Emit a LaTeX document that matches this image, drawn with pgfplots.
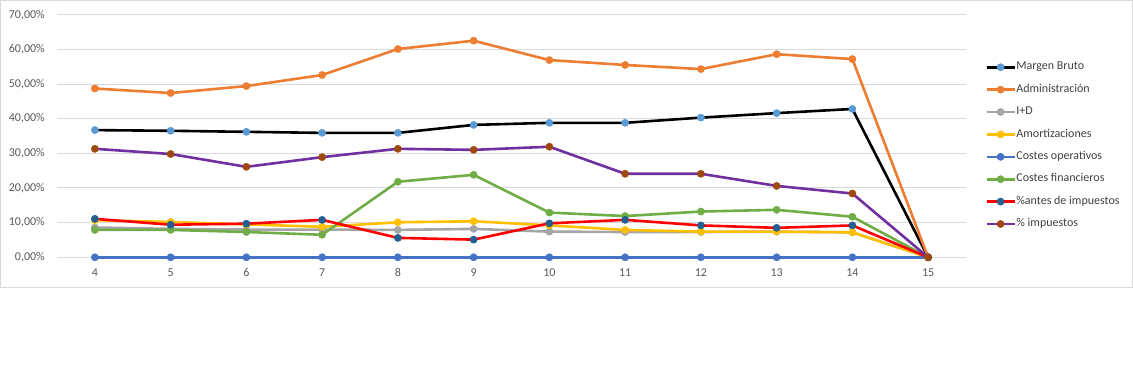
\documentclass[border=0pt]{standalone}
\usepackage{fontspec}
\setmainfont{Carlito}
\usepackage{pgfplots}
\pgfplotsset{compat=1.18}
\definecolor{mbm}{HTML}{5B9BD5}
\definecolor{adm}{HTML}{ED7D31}
\definecolor{idc}{HTML}{A5A5A5}
\definecolor{amo}{HTML}{FFC000}
\definecolor{cop}{HTML}{4472C4}
\definecolor{cfi}{HTML}{70AD47}
\definecolor{antm}{HTML}{255E91}
\definecolor{impl}{HTML}{7030A0}
\definecolor{impm}{HTML}{9E480E}
\definecolor{gridc}{HTML}{D9D9D9}
\definecolor{labc}{HTML}{595959}
\definecolor{legc}{HTML}{404040}
\begin{document}
\begin{tikzpicture}
\path[use as bounding box] (0bp,0bp) rectangle (1133bp,384bp);
\draw[gridc, line width=1bp] (0.5bp,96bp) rectangle (1132.5bp,383.5bp);
\begin{axis}[
  at={(57bp,126.7bp)}, anchor=south west,
  scale only axis, width=909bp, height=242.6bp,
  xmin=3.5, xmax=15.5, ymin=0, ymax=70,
  clip=false,
  axis line style={draw=none},
  major tick length=0pt,
  xtick={4,5,6,7,8,9,10,11,12,13,14,15},
  xticklabels={4,5,6,7,8,9,10,11,12,13,14,15},
  ytick={0,10,20,30,40,50,60,70},
  yticklabels={{0,00\%},{10,00\%},{20,00\%},{30,00\%},{40,00\%},{50,00\%},{60,00\%},{70,00\%}},
  /pgf/number format/assume math mode=true,
  ymajorgrids, grid style={gridc, line width=1bp},
  yticklabel style={font=\fontsize{12bp}{14bp}\selectfont, text=labc, anchor=east, inner sep=0pt, xshift=-12bp},
  xticklabel style={font=\fontsize{12bp}{14bp}\selectfont, text=labc, anchor=north, inner sep=0pt, yshift=-11bp},
  every axis plot/.append style={line width=2.6bp, line join=round, mark=*, mark size=3.6bp},
  legend style={at={(1.021,0.806)}, anchor=north west, draw=none, fill=none,
    inner sep=0pt, row sep=11.9bp, column sep=0pt,
    font=\fontsize{12bp}{14bp}\selectfont, text=legc,
    nodes={inner xsep=0.5bp, inner ysep=0pt, text height=8bp, text depth=2.5bp}},
  legend cell align=left,
  legend image code/.code={\draw[mark repeat=2,mark phase=2] plot coordinates {(0bp,0bp) (14bp,0bp) (28bp,0bp)};},
]
\addplot[black, mark options={draw=mbm, fill=mbm, line width=0.5bp}] coordinates {
(4,36.7) (5,36.5) (6,36.2) (7,35.9) (8,35.9) (9,38.2) (10,38.8) (11,38.8) (12,40.3) (13,41.6) (14,42.8) (15,0)};
\addlegendentry{Margen Bruto}
\addplot[adm, mark options={draw=adm, fill=adm, line width=0.5bp}] coordinates {
(4,48.7) (5,47.4) (6,49.4) (7,52.6) (8,60.1) (9,62.5) (10,56.9) (11,55.5) (12,54.3) (13,58.6) (14,57.2) (15,0)};
\addlegendentry{Administración}
\addplot[idc, mark options={draw=idc, fill=idc, line width=0.5bp}] coordinates {
(4,8.6) (5,8.2) (6,8.0) (7,8.0) (8,7.9) (9,8.2) (10,7.4) (11,7.3) (12,7.3) (13,7.4) (14,7.2) (15,0)};
\addlegendentry{I+D}
\addplot[amo, mark options={draw=amo, fill=amo, line width=0.5bp}] coordinates {
(4,10.7) (5,10.2) (6,9.5) (7,8.8) (8,10.1) (9,10.4) (10,9.2) (11,7.9) (12,7.4) (13,7.4) (14,7.2) (15,0)};
\addlegendentry{Amortizaciones}
\addplot[cop, mark options={draw=cop, fill=cop, line width=0.5bp}] coordinates {
(4,0) (5,0) (6,0) (7,0) (8,0) (9,0) (10,0) (11,0) (12,0) (13,0) (14,0) (15,0)};
\addlegendentry{Costes operativos}
\addplot[cfi, mark options={draw=cfi, fill=cfi, line width=0.5bp}] coordinates {
(4,7.9) (5,7.9) (6,7.3) (7,6.5) (8,21.8) (9,23.8) (10,12.9) (11,11.9) (12,13.2) (13,13.7) (14,11.7) (15,0)};
\addlegendentry{Costes financieros}
\addplot[red, mark options={draw=antm, fill=antm, line width=0.5bp}] coordinates {
(4,11.1) (5,9.4) (6,9.7) (7,10.8) (8,5.6) (9,5.1) (10,9.8) (11,10.8) (12,9.2) (13,8.5) (14,9.2) (15,0)};
\addlegendentry{\%antes de impuestos}
\addplot[impl, mark options={draw=impm, fill=impm, line width=0.5bp}] coordinates {
(4,31.3) (5,29.8) (6,26.1) (7,28.9) (8,31.3) (9,31.0) (10,31.9) (11,24.1) (12,24.1) (13,20.6) (14,18.4) (15,0)};
\addlegendentry{\% impuestos}
\end{axis}
\end{tikzpicture}
\end{document}
